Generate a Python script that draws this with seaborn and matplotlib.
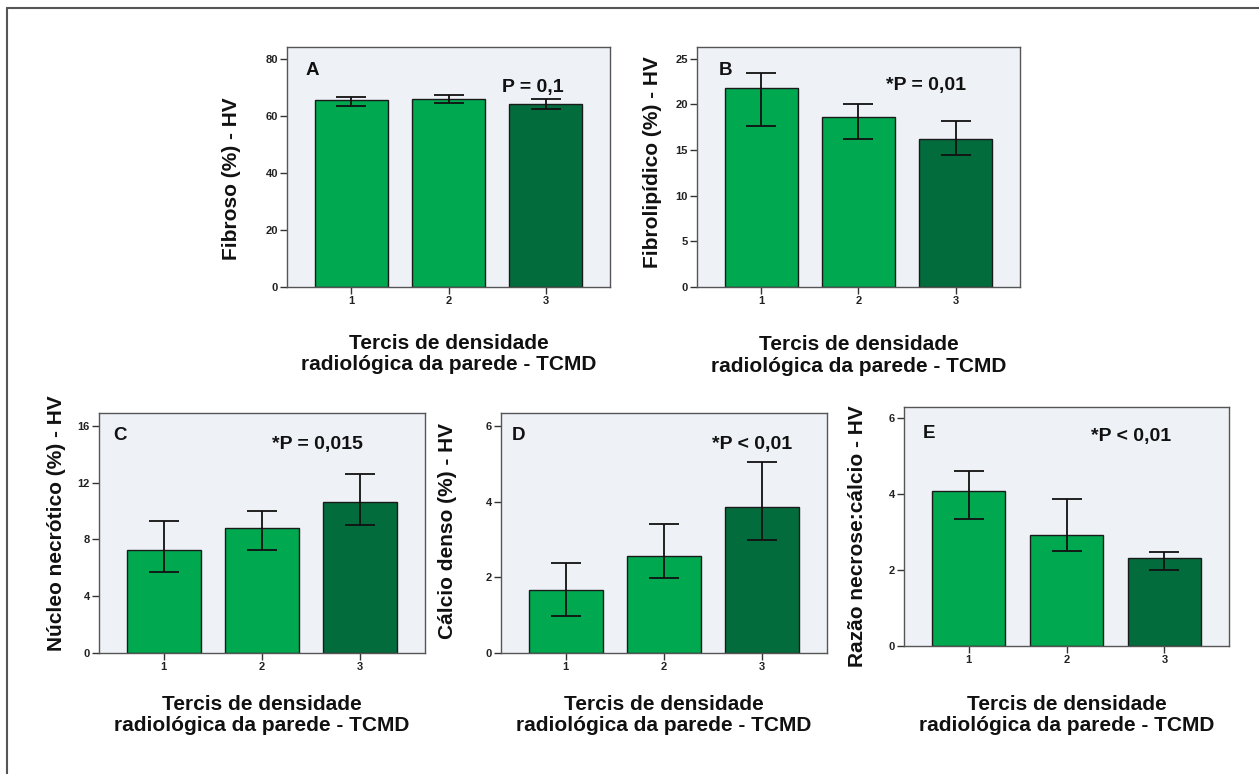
import numpy as np
import pandas as pd
import matplotlib
matplotlib.use("Agg")
import matplotlib.pyplot as plt
import seaborn as sns
from matplotlib.lines import Line2D

sns.set_theme(style="white")
plt.rcParams['font.family'] = ['Liberation Sans', 'DejaVu Sans']

# ---------------- data ----------------
categories = ["1", "2", "3"]

fibroso_mean = [65.5, 65.8, 64.2]
fibroso_lo = [63.6, 64.5, 62.4]
fibroso_hi = [66.8, 67.3, 65.8]

fibrolip_mean = [21.85, 18.6, 16.2]
fibrolip_lo = [17.6, 16.2, 14.5]
fibrolip_hi = [23.45, 20.1, 18.15]

necrot_mean = [7.24, 8.81, 10.63]
necrot_lo = [5.69, 7.24, 8.99]
necrot_hi = [9.27, 10.0, 12.58]

calcio_mean = [1.66, 2.55, 3.86]
calcio_lo = [0.97, 1.99, 2.98]
calcio_hi = [2.38, 3.40, 5.04]

razao_mean = [4.09, 2.92, 2.31]
razao_lo = [3.35, 2.50, 2.01]
razao_hi = [4.61, 3.88, 2.47]

ylabels = ["Fibroso (%) - HV", "Fibrolipídico (%) - HV", "Núcleo necrótico (%) - HV",
           "Cálcio denso (%) - HV", "Razão necrose:cálcio - HV"]
panel_letters = ["A", "B", "C", "D", "E"]
p_texts = ["P = 0,1", "*P = 0,01", "*P = 0,015", "*P < 0,01", "*P < 0,01"]
yticks_list = [[0, 20, 40, 60, 80], [0, 5, 10, 15, 20, 25], [0, 4, 8, 12, 16],
               [0, 2, 4, 6], [0, 2, 4, 6]]
xlabel_text = "Tercis de densidade\nradiológica da parede - TCMD"

# ---------------- layout ----------------
W, H = 1259, 774
fig = plt.figure(figsize=(W / 100, H / 100), dpi=100)
fig.patch.set_facecolor("white")

def px_axes(left, right, top, bottom):
    return fig.add_axes([left / W, 1 - bottom / H, (right - left) / W, (bottom - top) / H])

boxes = [(287, 610, 47, 287), (697, 1020, 47, 287), (99, 425, 413, 653),
         (501, 827, 413, 653), (904, 1229, 407, 646)]
ylims = [84.2, 26.3, 16.9, 6.34, 6.29]
ylabel_x = [-0.173, -0.139, -0.129, -0.163, -0.142]
ylabel_y = [0.45, 0.52, 0.54, 0.51, 0.46]
xlabel_y = [-0.279, -0.285, -0.258, -0.258, -0.289]
letter_pos = [(0.056, 0.904), (0.066, 0.904), (0.044, 0.908), (0.034, 0.908), (0.058, 0.89)]
p_pos = [(0.76, 0.833), (0.71, 0.84), (0.67, 0.867), (0.77, 0.867), (0.70, 0.878)]

means = [fibroso_mean, fibrolip_mean, necrot_mean, calcio_mean, razao_mean]
los = [fibroso_lo, fibrolip_lo, necrot_lo, calcio_lo, razao_lo]
his = [fibroso_hi, fibrolip_hi, necrot_hi, calcio_hi, razao_hi]

light_green = "#00A84F"
dark_green = "#036C3C"
palette = {"1": light_green, "2": light_green, "3": dark_green}
bg = "#EEF2F7"

for i in range(5):
    ax = px_axes(*boxes[i])
    df = pd.DataFrame({"tercil": categories, "valor": means[i]})
    sns.barplot(data=df, x="tercil", y="valor", hue="tercil", palette=palette,
                legend=False, ax=ax, width=0.75, edgecolor="#1a1a1a", linewidth=1.0,
                errorbar=None, saturation=1)
    m = np.array(means[i])
    lo = np.array(los[i])
    hi = np.array(his[i])
    ax.errorbar(np.arange(3), m, yerr=[m - lo, hi - m], fmt="none", ecolor="#111111",
                elinewidth=1.3, capsize=10.5, capthick=1.3, zorder=5)
    ax.set_facecolor(bg)
    ax.set_xlim(-0.66, 2.66)
    ax.set_ylim(0, ylims[i])
    ax.set_yticks(yticks_list[i])
    ax.set_yticklabels([str(t) for t in yticks_list[i]])
    for s in ax.spines.values():
        s.set_color("#555555")
        s.set_linewidth(1.0)
    ax.tick_params(axis="both", which="major", direction="out", length=5, width=1.0,
                   color="#333333", labelsize=8, pad=1.5, left=True, bottom=True)
    for lab in ax.get_xticklabels() + ax.get_yticklabels():
        lab.set_fontweight("bold")
        lab.set_color("#222222")
    ax.set_ylabel(ylabels[i], fontsize=15, fontweight="bold", va="center", color="#111111")
    ax.yaxis.set_label_coords(ylabel_x[i], ylabel_y[i])
    ax.set_xlabel(xlabel_text, fontsize=15, fontweight="bold", va="center",
                  linespacing=1.15, color="#111111")
    ax.xaxis.set_label_coords(0.5, xlabel_y[i])
    ax.text(letter_pos[i][0], letter_pos[i][1], panel_letters[i], transform=ax.transAxes,
            fontsize=13.5, fontweight="bold", ha="left", va="center", color="#111111")
    ax.text(p_pos[i][0], p_pos[i][1], p_texts[i], transform=ax.transAxes,
            fontsize=14, fontweight="bold", ha="center", va="center", color="#111111")

# outer frame (left and top edges visible)
fig.add_artist(Line2D([7 / W, 7 / W], [0, 1 - 8 / H], transform=fig.transFigure,
                      color="#555555", linewidth=1.5))
fig.add_artist(Line2D([7 / W, 1], [1 - 8 / H, 1 - 8 / H], transform=fig.transFigure,
                      color="#555555", linewidth=1.5))

fig.savefig("out.png", dpi=100, facecolor="white")
